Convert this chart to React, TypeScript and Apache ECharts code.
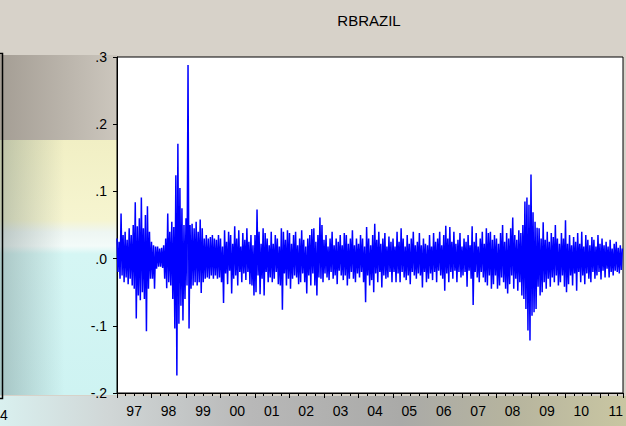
import React, { useEffect, useRef } from 'react';
import * as echarts from 'echarts';

const chartTitle = 'RBRAZIL';
const yearLabels = ['97', '98', '99', '00', '01', '02', '03', '04', '05', '06', '07', '08', '09', '10', '11'];

// Daily-return envelope, in thousandths (0.001), ~34 readings per year
const r1997 = [30, -20, 25, -30, 67, -25, 35, -35, 40, -28, 28, -38, 45, -30, 35, -40, 50, -45, 84, -89, 48, -55, 60, -62, 91, -50, 45, -60, 65, -108, 78, -45, 40, -30];
const r1998 = [25, -30, 20, -45, 18, -15, 18, -12, 15, -12, 16, -14, 20, -30, 30, -44, 67, -35, 40, -40, 55, -60, 47, -104, 124, -174, 171, -97, 105, -70, 75, -92, 50, -60];
const r1999 = [60, -40, 288, -104, 50, -45, 52, -40, 45, -35, 55, -40, 40, -35, 58, -51, 45, -35, 30, -30, 35, -28, 30, -30, 32, -25, 35, -30, 30, -25, 28, -30, 35, -28];
const r2000 = [30, -35, 18, -66, 42, -22, 25, -38, 40, -18, 35, -52, 22, -30, 48, -25, 30, -40, 42, -20, 18, -35, 38, -22, 28, -32, 45, -20, 25, -38, 35, -40, 20, -55];
const r2001 = [35, -50, 73, -25, 40, -53, 22, -30, 45, -55, 38, -20, 30, -35, 20, -28, 40, -35, 22, -30, 35, -20, 30, -38, 18, -40, 45, -76, 40, -22, 28, -40, 42, -30];
const r2002 = [38, -45, 22, -30, 35, -25, 40, -28, 20, -38, 30, -35, 42, -22, 28, -35, 18, -52, 30, -25, 35, -40, 44, -22, 45, -40, 25, -55, 35, -28, 61, -30, 50, -35];
const r2003 = [28, -22, 35, -28, 18, -32, 30, -20, 40, -30, 20, -25, 30, -38, 25, -18, 35, -25, 20, -32, 38, -25, 35, -40, 22, -30, 30, -20, 42, -30, 20, -35, 30, -22];
const r2004 = [22, -28, 35, -20, 30, -35, 18, -65, 47, -25, 30, -40, 20, -32, 35, -50, 52, -22, 28, -35, 40, -20, 22, -43, 30, -25, 38, -30, 18, -28, 33, -20, 25, -35];
const r2005 = [30, -20, 18, -35, 40, -22, 25, -35, 45, -20, 30, -28, 18, -32, 35, -25, 22, -38, 30, -20, 40, -25, 20, -30, 25, -22, 38, -25, 20, -43, 30, -20, 22, -35];
const r2006 = [20, -30, 35, -22, 18, -32, 38, -20, 25, -35, 30, -18, 40, -25, 20, -30, 35, -48, 49, -22, 30, -35, 47, -20, 25, -30, 40, -18, 22, -35, 28, -20, 38, -28];
const r2007 = [18, -25, 30, -20, 25, -42, 35, -18, 20, -30, 48, -69, 25, -20, 38, -28, 18, -35, 30, -20, 40, -28, 22, -35, 45, -40, 38, -25, 40, -45, 28, -38, 35, -25];
const r2008 = [30, -45, 22, -40, 38, -28, 50, -35, 25, -45, 38, -52, 30, -38, 45, -25, 61, -45, 35, -30, 28, -48, 42, -35, 38, -55, 50, -60, 85, -75, 91, -107, 80, -122];
const r2009 = [125, -85, 69, -80, 55, -75, 46, -42, 45, -55, 30, -50, 54, -35, 28, -45, 40, -30, 25, -42, 38, -28, 32, -35, 50, -25, 30, -40, 22, -35, 38, -25, 30, -42];
const r2010 = [57, -50, 22, -38, 35, -25, 20, -40, 32, -22, 25, -48, 38, -20, 22, -35, 40, -25, 18, -38, 35, -22, 28, -30, 20, -35, 32, -20, 28, -30, 18, -25, 35, -20];
const r2011 = [22, -31, 30, -18, 20, -28, 25, -15, 18, -28, 28, -20, 15, -25, 22, -18, 25, -20, 16, -22, 20, -17, 15];

const yearSeries: [number, number[]][] = [
  [1997, r1997], [1998, r1998], [1999, r1999], [2000, r2000], [2001, r2001],
  [2002, r2002], [2003, r2003], [2004, r2004], [2005, r2005], [2006, r2006],
  [2007, r2007], [2008, r2008], [2009, r2009], [2010, r2010], [2011, r2011],
];
const READINGS_PER_YEAR = 34;

const FONT = '"Liberation Sans", Arial, sans-serif';

export default function App() {
  const ref = useRef<HTMLDivElement>(null);
  useEffect(() => {
    const chart = echarts.init(ref.current as HTMLDivElement, null, { renderer: 'svg' });
    const data: [number, number][] = [];
    yearSeries.forEach(([yr, vals]) => {
      vals.forEach((v, i) => data.push([yr + i / READINGS_PER_YEAR, v / 1000]));
    });
    chart.setOption({
      animation: false,
      backgroundColor: 'transparent',
      title: {
        text: chartTitle,
        left: 364,
        top: 8,
        textAlign: 'center',
        textStyle: { fontFamily: FONT, fontSize: 15, fontWeight: 'normal', color: '#000' },
      },
      grid: [
        {
          left: 117, right: 3, top: 57, bottom: 33,
          show: true, backgroundColor: '#ffffff', borderColor: '#000', borderWidth: 1,
        },
        // label grid: same scale, extended half a year to the left so year labels sit mid-year
        { left: 99.75, right: 3, top: 57, bottom: 33, show: false },
      ],
      xAxis: [
        {
          type: 'value', gridIndex: 0, min: 1997, max: 2011.6667, interval: 1,
          axisLine: { show: true, onZero: false, lineStyle: { color: '#000', width: 1 } },
          axisTick: { show: true, inside: false, length: 5, lineStyle: { color: '#000' } },
          minorTick: { show: true, splitNumber: 4, length: 3, lineStyle: { color: '#000' } },
          axisLabel: { show: false },
          splitLine: { show: false },
        },
        {
          type: 'value', gridIndex: 1, min: 1996.5, max: 2011.6667, interval: 1, position: 'bottom',
          axisLine: { show: false }, axisTick: { show: false }, splitLine: { show: false },
          axisLabel: {
            show: true, margin: 11, fontFamily: FONT, fontSize: 14, color: '#000',
            showMinLabel: false, showMaxLabel: false,
            formatter: (v: number) => {
              const k = Math.floor(v + 1e-6) - 1997;
              return Math.abs(v - Math.floor(v + 1e-6) - 0.5) < 1e-3 ? yearLabels[k] ?? '' : '';
            },
          },
        },
      ],
      yAxis: [
        {
          type: 'value', gridIndex: 0, min: -0.2, max: 0.3, interval: 0.1,
          axisLine: { show: true, onZero: false, lineStyle: { color: '#000', width: 1 } },
          axisTick: { show: true, inside: false, length: 4, lineStyle: { color: '#000' } },
          splitLine: { show: false },
          axisLabel: {
            margin: 10, fontFamily: FONT, fontSize: 14, color: '#000',
            formatter: (v: number) => v.toFixed(1).replace('0.', '.'),
          },
        },
        { type: 'value', gridIndex: 1, min: 0, max: 1, show: false },
      ],
      series: [
        {
          type: 'line', xAxisIndex: 0, yAxisIndex: 0, data, showSymbol: false,
          lineStyle: { color: '#0000ff', width: 1.5 }, itemStyle: { color: '#0000ff' },
          silent: true,
        },
      ],
      graphic: [
        {
          type: 'polyline', silent: true,
          shape: { points: [[0, 53.5], [2.5, 53.5], [2.5, 398.5], [0, 398.5]] },
          style: { stroke: '#000', lineWidth: 1.5, fill: 'none' },
        },
        {
          type: 'text', x: 0, y: 408, silent: true,
          style: { text: '4', textAlign: 'left', font: `14px ${FONT}`, fill: '#000' },
        },
      ],
    });
    return () => chart.dispose();
  }, []);

  const bg = [
    'linear-gradient(to right, rgba(90,110,110,0.35), rgba(90,110,110,0) 55%) 0 140px / 117px 255px no-repeat',
    'linear-gradient(to bottom, #f1efc4 0px, #f6f5d0 80px, #eef6f2 92px, #f3fbf9 106px, #d5f6f4 114px, #cef3f2 255px) 0 140px / 117px 255px no-repeat',
    'linear-gradient(to right, rgba(70,60,50,0.35), rgba(70,60,50,0.08)) 0 55px / 117px 85px no-repeat',
    'linear-gradient(to right, #d9f0ef 0px, #d0d6d6 110px, #b8b8b8 250px, #aaaaa8 400px, #b6b49e 510px, #c9c6a2 626px) 0 396px / 626px 30px no-repeat',
    '#d7d2c9',
  ].join(', ');

  return (
    <div
      ref={ref}
      style={{ position: 'fixed', left: 0, top: 0, width: 626, height: 426, background: bg }}
    />
  );
}
